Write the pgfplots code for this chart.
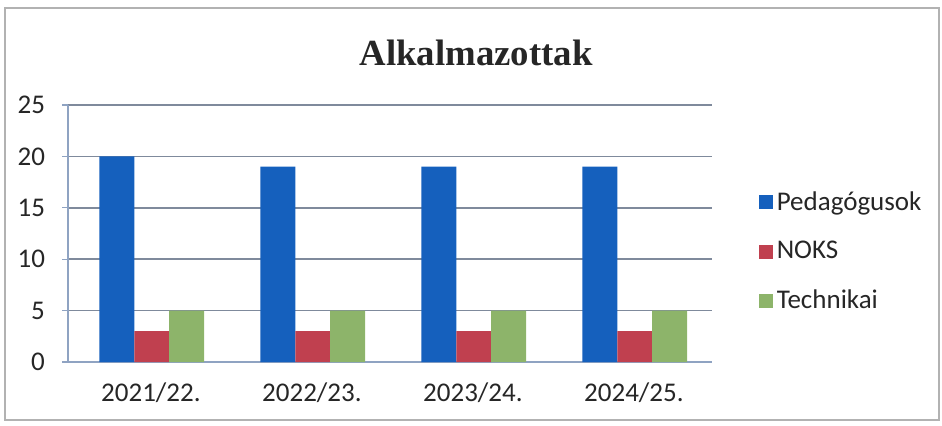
\documentclass[border=0pt]{standalone}
\usepackage{pgfplots}
\pgfplotsset{compat=1.18}
\usepackage{fontspec}
\setmainfont{Carlito}
\newfontfamily\titlefont{Liberation Serif}
\definecolor{cblue}{HTML}{1560BD}
\definecolor{cred}{HTML}{C0404F}
\definecolor{cgreen}{HTML}{8DB46A}
\definecolor{cgrid}{HTML}{7F8A9C}
\definecolor{caxis}{HTML}{8FA3C2}
\begin{document}
\begin{tikzpicture}
\useasboundingbox (0,0) rectangle (471pt,212.5pt);
\draw[black!30, line width=0.8pt] (2.5pt,2.5pt) rectangle (469.5pt,208.5pt);
\node[font=\titlefont\bfseries\fontsize{18.4}{22}\selectfont, text=black!85] at (238pt,186pt) {Alkalmazottak};
\begin{axis}[
  at={(34pt,31.5pt)}, anchor=south west,
  scale only axis, width=322pt, height=128.5pt,
  ybar=0pt, bar width=0.217,
  xmin=-0.5, xmax=3.5, ymin=0, ymax=25,
  ytick={0,5,10,15,20,25},
  xtick={0.015,1.015,2.015,3.015},
  xticklabels={2021/22.,2022/23.,2023/24.,2024/25.},
  major x tick style={draw=none},
  extra x ticks={-0.5,0.5,1.5,2.5,3.5},
  extra x tick labels={},
  extra x tick style={tick style={draw=caxis, line width=0.6pt}, major tick length=5pt, tick align=outside, grid=none},
  axis x line*=bottom, axis y line*=left,
  axis line style={draw=caxis, line width=0.8pt, -},
  ymajorgrids, grid style={draw=cgrid, line width=0.8pt},
  y tick style={draw=caxis, line width=0.6pt},
  tick align=outside, major tick length=3pt,
  ticklabel style={font=\fontsize{13.5}{15}\selectfont, text=black!85},
  yticklabel style={xshift=-5pt},
  xticklabel style={yshift=-4pt},
  /pgf/number format/assume math mode=true,
  legend style={at={(1.072,0.43)}, anchor=west, draw=none, fill=none,
    font=\fontsize{13.5}{15}\selectfont, text=black!85,
    row sep=10pt, inner sep=0pt},
  legend cell align=left,
  legend image code/.code={\fill[#1] (0pt,-3.5pt) rectangle (7pt,3.5pt);},
]
\addplot[draw=none, fill=cblue] coordinates {(0.02,20) (1.02,19) (2.02,19) (3.02,19)};
\addplot[draw=none, fill=cred] coordinates {(0.02,3) (1.02,3) (2.02,3) (3.02,3)};
\addplot[draw=none, fill=cgreen] coordinates {(0.02,5) (1.02,5) (2.02,5) (3.02,5)};
\legend{Pedagógusok,NOKS,Technikai}
\end{axis}
\end{tikzpicture}
\end{document}
